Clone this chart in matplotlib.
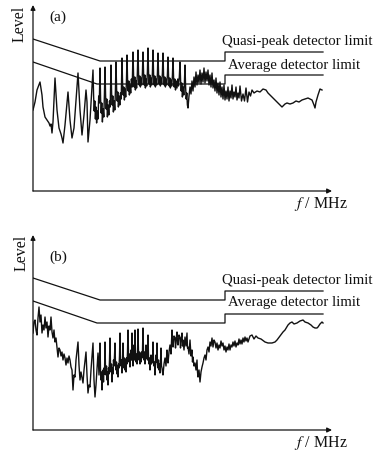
import matplotlib
matplotlib.use('Agg')
import matplotlib.pyplot as plt

plt.rcParams['font.family'] = ['Liberation Serif', 'DejaVu Serif']
plt.rcParams['mathtext.fontset'] = 'stix'

# limit lines (shared by both panels): frequency vs level
qp_freq = [0, 67, 192, 192, 290]
qp_level = [152, 130, 130, 139, 139]
avg_freq = [0, 64, 192, 192, 290]
avg_level = [129, 107, 107, 116, 116]

a_trace = [
    (0, 81), (2, 89), (4, 101), (7, 109), (9, 96), (10, 84), (12, 74), (14, 71), (16, 68), (17, 65),
    (18, 67), (19, 58), (20, 69), (22, 113), (24, 81), (26, 63), (27, 60), (28, 57), (29, 53), (30, 48),
    (32, 66), (35, 99), (37, 71), (39, 53), (41, 63), (43, 91), (45, 118), (47, 81), (49, 56), (51, 76),
    (53, 101), (54, 89), (55, 49), (57, 71), (60, 121),
    (60.6, 95), (61.2, 80), (61.8, 90), (62.4, 72), (63, 84), (63.6, 68), (64.3, 80), (65, 72), (65.7, 95), (66.3, 88),
    (67, 123), (67.6, 92), (68.2, 78), (68.8, 88), (69.4, 69), (70.1, 82), (70.8, 74), (71.4, 96),
    (72, 124), (72.6, 95), (73.2, 82), (73.8, 92), (74.4, 74), (75.1, 86), (75.8, 76), (76.5, 90), (77.2, 84),
    (78, 126), (78.6, 98), (79.2, 86), (79.8, 95), (80.4, 79), (81.1, 90), (81.8, 81), (82.4, 100),
    (83, 129), (83.6, 102), (84.2, 90), (84.8, 99), (85.4, 84), (86.1, 95), (86.8, 86), (87.5, 98), (88.2, 92),
    (89, 133), (89.6, 106), (90.2, 96), (90.8, 104), (91.4, 91), (92, 102), (92.7, 94), (93.4, 108),
    (94, 136), (94.6, 110), (95.2, 100), (95.8, 110), (96.4, 96), (97, 106), (97.7, 98), (98.4, 112), (99.2, 104),
    (100, 139), (100.6, 115), (101.2, 104), (101.8, 114), (102.4, 101), (103, 110), (103.6, 103), (104.3, 116),
    (105, 141), (105.6, 116), (106.2, 106), (106.8, 115), (107.4, 104), (108, 113), (108.7, 106), (109.4, 118),
    (110, 139), (110.6, 117), (111.2, 106), (111.8, 116), (112.4, 103), (113, 112), (113.7, 105), (114.4, 119),
    (115, 143), (115.6, 117), (116.2, 107), (116.8, 116), (117.4, 104), (118, 113), (118.7, 106), (119.4, 118),
    (120, 141), (120.6, 116), (121.2, 106), (121.8, 115), (122.4, 104), (123, 112), (123.7, 106), (124.4, 117),
    (125, 138), (125.6, 116), (126.2, 107), (126.8, 115), (127.4, 105), (128, 113), (128.7, 107), (129.4, 118),
    (130, 138), (130.6, 115), (131.2, 106), (131.8, 114), (132.4, 104), (133, 112), (133.7, 106), (134.4, 116),
    (135, 134), (135.6, 114), (136.2, 105), (136.8, 113), (137.4, 103), (138, 111), (138.7, 105), (139.4, 115),
    (140, 133), (140.6, 113), (141.2, 104), (141.8, 112), (142.5, 101), (143.2, 110), (144, 103), (144.8, 112),
    (145.5, 105), (146.3, 114), (147, 129), (147.6, 110), (148.2, 100), (148.8, 108), (149.4, 94), (150.1, 104),
    (150.8, 96), (151.4, 108), (152, 126), (152.6, 104), (153.2, 92), (153.8, 98), (154.4, 86), (155, 83),
    (156, 95), (157, 104), (158, 97), (159, 110), (160, 100), (161, 114), (162, 104), (163, 119), (164, 106),
    (165, 116), (166, 108), (167, 121), (168, 107), (169, 118), (170, 109), (171, 123), (172, 108), (173, 119),
    (174, 110), (175, 121), (176, 106), (177, 116), (178, 104), (179, 118), (180, 103), (181, 111), (182, 100),
    (183, 113), (184, 98), (185, 108), (186, 96), (187, 109), (188, 94), (189, 104), (190, 92), (191, 106),
    (192, 91), (193, 100), (194, 92), (195, 104), (196, 90), (197, 100), (198, 93), (199, 106), (200, 92),
    (201, 99), (202, 94), (203, 104), (204, 91), (205, 98), (206, 93), (207, 105), (208.5, 90), (210, 97),
    (211.5, 90), (213, 103), (214.5, 89), (216, 99), (217.5, 95), (219, 101), (221, 98), (224, 100),
    (227, 99), (230, 102), (233, 101), (235, 98), (237, 96), (240, 93), (243, 90), (246, 87), (249, 84),
    (252, 87), (254, 88), (257, 87), (260, 88), (263, 90), (266, 89), (269, 91), (272, 92), (275, 93),
    (277, 92), (279, 91), (281, 86), (282, 83), (283, 89), (285, 96), (287, 102), (289, 101),
]

b_trace = [
    (0, 97), (1, 108), (2, 110), (3, 100), (4, 95), (5, 112), (6, 123), (7, 108), (8, 115), (9, 97),
    (10, 105), (11, 100), (12, 113), (13, 102), (14, 108), (15, 93), (16, 104), (17, 100), (18, 113), (19, 98),
    (20, 92), (21, 100), (22, 88), (23, 92), (24, 83), (25, 73), (26, 82), (27, 80), (28, 74), (29, 78),
    (30, 70), (31, 76), (32, 72), (33, 65), (34, 72), (35, 67), (36, 74), (37, 70), (38, 63), (39, 60),
    (40, 40), (41, 55), (42, 53), (43, 70), (45, 88), (46, 65), (47, 50), (48, 58), (50, 47), (51, 60),
    (53, 78), (54, 55), (55, 37), (56, 45), (57, 43), (58, 60), (60, 87), (61, 50), (62, 33), (63, 45),
    (65, 77), (66, 55), (67, 87), (67.5, 60), (68, 50), (68.5, 58), (69, 40), (69.5, 52), (70, 60), (70.5, 48),
    (71, 62), (71.5, 56), (72, 88), (72.5, 62), (73, 55), (73.5, 64), (74, 50), (74.5, 58), (75, 45), (75.5, 62),
    (76, 56), (76.5, 70), (77, 92), (77.5, 66), (78, 58), (78.5, 66), (79, 48), (79.5, 62), (80, 56), (80.5, 70),
    (81, 64), (81.5, 74), (82, 87), (82.5, 66), (83, 60), (83.5, 68), (84, 56), (84.5, 64), (85, 53), (85.5, 66),
    (86, 62), (86.5, 74), (87, 97), (87.5, 72), (88, 64), (88.5, 70), (89, 57), (89.5, 68), (90, 87), (90.5, 68),
    (91, 62), (91.5, 72), (92, 60), (92.5, 70), (93, 58), (93.5, 72), (94, 66), (94.5, 78), (95, 100), (95.5, 76),
    (96, 68), (96.5, 76), (97, 63), (97.5, 72), (98, 80), (98.5, 70), (99, 97), (99.5, 72), (100, 64), (100.5, 74),
    (101, 85), (101.5, 70), (102, 100), (102.5, 76), (103, 68), (103.5, 76), (104, 66), (104.5, 76), (105, 101),
    (105.5, 78), (106, 70), (106.5, 78), (107, 66), (107.5, 76), (108, 68), (108.5, 78), (109, 72), (109.5, 80),
    (110, 102), (110.5, 78), (111, 70), (111.5, 78), (112, 66), (112.5, 76), (113, 85), (113.5, 72), (114, 78),
    (114.5, 70), (115, 95), (115.5, 74), (116, 66), (116.5, 72), (117, 60), (117.5, 70), (118, 75), (118.5, 66),
    (119, 74), (119.5, 68), (120, 88), (120.5, 70), (121, 64), (121.5, 68), (122, 55), (122.5, 66), (123, 75),
    (123.5, 68), (124, 87), (124.5, 66), (125, 62), (125.5, 70), (126, 60), (126.5, 66), (127, 57), (127.5, 68),
    (128, 82), (128.5, 64), (129, 62), (129.5, 58), (130, 55), (131, 66), (132, 72), (133, 64), (134, 80),
    (134.5, 70), (135, 67), (136, 78), (137, 85), (138, 76), (139, 100), (139.5, 84), (140, 83), (141, 94),
    (142, 92), (142.5, 82), (143, 90), (144, 98), (144.5, 86), (145, 85), (146, 95), (147, 92), (147.5, 82),
    (148, 90), (149, 97), (149.5, 84), (150, 90), (151, 80), (152, 93), (153, 84), (154, 97), (154.5, 82),
    (155, 83), (156, 76), (157, 90), (158, 74), (159, 80), (159.5, 68), (160, 73), (161, 64), (162, 67),
    (163, 60), (164, 70), (164.5, 58), (165, 53), (166, 60), (167, 48), (168, 58), (169, 63), (170, 67),
    (171, 72), (172, 75), (173, 70), (174, 80), (175, 83), (176, 78), (177, 88), (178, 84), (179, 92),
    (180, 83), (181, 90), (182, 88), (183, 82), (184, 87), (185, 80), (186, 85), (187, 82), (188, 89),
    (189, 84), (190, 87), (191, 80), (192, 84), (193, 78), (194, 83), (195, 80), (196, 86), (197, 80),
    (198, 85), (199, 83), (200, 88), (201, 84), (202, 89), (203, 83), (204, 87), (205, 85), (206, 91),
    (207, 86), (208, 90), (209, 86), (210, 92), (211, 88), (212, 93), (213, 89), (214, 92), (215, 88),
    (217, 94), (219, 95), (221, 91), (223, 94), (225, 92), (228, 91), (232, 88), (235, 87), (239, 87),
    (242, 88), (244, 90), (247, 94), (250, 98), (252, 100), (255, 105), (257, 107), (259, 108), (261, 106),
    (264, 107), (267, 109), (270, 110), (272, 108), (275, 107), (278, 105), (280, 103), (282, 102),
    (284, 102), (285, 103), (287, 106), (289, 108), (290, 107),
]

fig = plt.figure(figsize=(3.87, 4.61), dpi=100)
ax_a = fig.add_axes([33 / 387, 270 / 461, 307 / 387, 188 / 461])
ax_b = fig.add_axes([33 / 387, 31 / 461, 307 / 387, 198 / 461])

panels = [
    (ax_a, a_trace, 188, 186, '(a)', (25, 174), (-13, 167), (149, 126)),
    (ax_b, b_trace, 198, 195, '(b)', (25, 173), (-11, 177), (150, 128)),
]

ink = '#111111'
for ax, trace, ytop, arrow_top, tag, tag_xy, lab_xy, lim_y in panels:
    ax.set_xlim(0, 307)
    ax.set_ylim(0, ytop)
    ax.axis('off')
    # axes drawn as arrows
    ax.annotate('', xy=(299, 0), xytext=(0, 0),
                arrowprops=dict(arrowstyle='-|>', color=ink, lw=0.9, mutation_scale=7,
                                shrinkA=0, shrinkB=0))
    ax.annotate('', xy=(0, arrow_top), xytext=(0, 0),
                arrowprops=dict(arrowstyle='-|>', color=ink, lw=0.9, mutation_scale=7,
                                shrinkA=0, shrinkB=0))
    ax.plot(qp_freq, qp_level, color=ink, lw=0.9)
    ax.plot(avg_freq, avg_level, color=ink, lw=0.9)
    f = [p[0] for p in trace]
    lv = [p[1] for p in trace]
    ax.plot(f, lv, color=ink, lw=1.0)
    ax.text(tag_xy[0], tag_xy[1], tag, fontsize=11, ha='center', va='center', color=ink)
    ax.text(lab_xy[0], lab_xy[1], 'Level', fontsize=11.5, rotation=90,
            ha='center', va='center', color=ink)
    ax.text(288, -13, r'$f$ / MHz', fontsize=11.5, ha='center', va='center', color=ink)
    ax.text(189, lim_y[0], 'Quasi-peak detector limit', fontsize=10.6,
            ha='left', va='center', color=ink)
    ax.text(195, lim_y[1], 'Average detector limit', fontsize=10.6,
            ha='left', va='center', color=ink)

fig.savefig('out.png', dpi=100, facecolor='white')
